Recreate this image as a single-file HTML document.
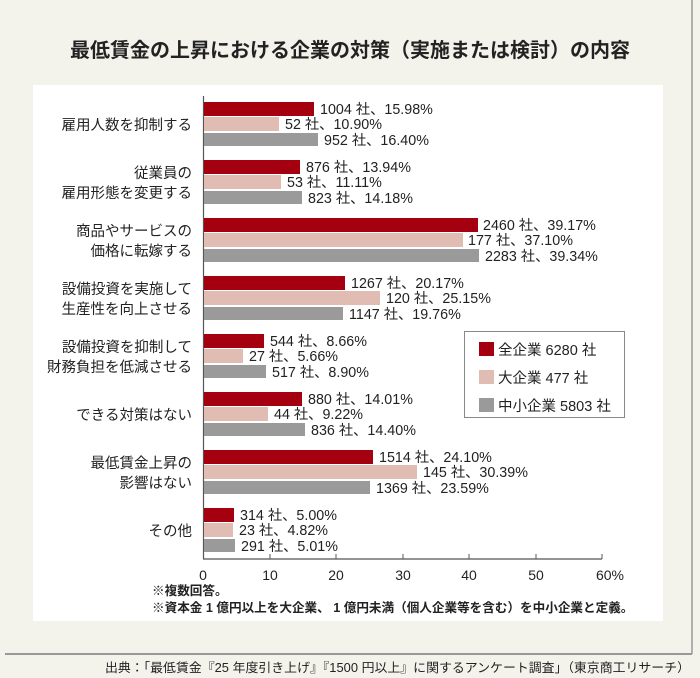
<!DOCTYPE html>
<html><head><meta charset="utf-8"><style>
body{margin:0;background:#f3f3ec}
svg{display:block}
text{font-family:"Liberation Sans","Noto Sans CJK JP",sans-serif;fill:#222}
</style></head><body>
<svg width="700" height="678" viewBox="0 0 700 678" xmlns="http://www.w3.org/2000/svg">
<rect x="0" y="0" width="700" height="678" fill="#f3f3ec"/>
<rect x="33" y="85" width="630" height="536" fill="#fff"/>
<line x1="692" y1="0" x2="692" y2="654" stroke="#999" stroke-width="1.5"/>
<line x1="5" y1="654" x2="692" y2="654" stroke="#999" stroke-width="2"/>
<text x="350" y="57" text-anchor="middle" font-size="20" font-weight="bold" textLength="560" lengthAdjust="spacingAndGlyphs">最低賃金の上昇における企業の対策（実施または検討）の内容</text>

<line x1="203.5" y1="96" x2="203.5" y2="559" stroke="#555" stroke-width="1.2"/>
<line x1="203" y1="559" x2="602" y2="559" stroke="#555" stroke-width="1.2"/>
<g stroke="#555" stroke-width="1">
<line x1="270" y1="554" x2="270" y2="559"/><line x1="336" y1="554" x2="336" y2="559"/>
<line x1="403" y1="554" x2="403" y2="559"/><line x1="469" y1="554" x2="469" y2="559"/>
<line x1="536" y1="554" x2="536" y2="559"/><line x1="602" y1="554" x2="602" y2="559"/>
</g>
<g font-size="14" text-anchor="middle">
<text x="203" y="580">0</text><text x="270" y="580">10</text><text x="336" y="580">20</text>
<text x="403" y="580">30</text><text x="469" y="580">40</text><text x="536" y="580">50</text><text x="610" y="580">60%</text>
</g>

<g>
<rect x="204" y="102" width="110" height="14" fill="#a5000f"/>
<rect x="204" y="117" width="75" height="14" fill="#e0bcb2"/>
<rect x="204" y="133" width="114" height="13" fill="#9a9a9a"/>
<rect x="204" y="160" width="96" height="14" fill="#a5000f"/>
<rect x="204" y="175" width="77" height="14" fill="#e0bcb2"/>
<rect x="204" y="191" width="98" height="13" fill="#9a9a9a"/>
<rect x="204" y="218" width="274" height="14" fill="#a5000f"/>
<rect x="204" y="233" width="259" height="14" fill="#e0bcb2"/>
<rect x="204" y="249" width="275" height="13" fill="#9a9a9a"/>
<rect x="204" y="276" width="141" height="14" fill="#a5000f"/>
<rect x="204" y="291" width="176" height="14" fill="#e0bcb2"/>
<rect x="204" y="307" width="139" height="13" fill="#9a9a9a"/>
<rect x="204" y="334" width="60" height="14" fill="#a5000f"/>
<rect x="204" y="349" width="39" height="14" fill="#e0bcb2"/>
<rect x="204" y="365" width="62" height="13" fill="#9a9a9a"/>
<rect x="204" y="392" width="98" height="14" fill="#a5000f"/>
<rect x="204" y="407" width="64" height="14" fill="#e0bcb2"/>
<rect x="204" y="423" width="101" height="13" fill="#9a9a9a"/>
<rect x="204" y="450" width="169" height="14" fill="#a5000f"/>
<rect x="204" y="465" width="213" height="14" fill="#e0bcb2"/>
<rect x="204" y="481" width="166" height="13" fill="#9a9a9a"/>
<rect x="204" y="508" width="30" height="14" fill="#a5000f"/>
<rect x="204" y="523" width="29" height="14" fill="#e0bcb2"/>
<rect x="204" y="539" width="31" height="13" fill="#9a9a9a"/>
</g>

<g font-size="14.3">
<text x="320" y="114">1004 社、15.98%</text>
<text x="285" y="129">52 社、10.90%</text>
<text x="324" y="145">952 社、16.40%</text>
<text x="306" y="172">876 社、13.94%</text>
<text x="287" y="187">53 社、11.11%</text>
<text x="308" y="203">823 社、14.18%</text>
<text x="483" y="230">2460 社、39.17%</text>
<text x="468" y="245">177 社、37.10%</text>
<text x="485" y="261">2283 社、39.34%</text>
<text x="351" y="288">1267 社、20.17%</text>
<text x="386" y="303">120 社、25.15%</text>
<text x="349" y="319">1147 社、19.76%</text>
<text x="270" y="346">544 社、8.66%</text>
<text x="249" y="361">27 社、5.66%</text>
<text x="272" y="377">517 社、8.90%</text>
<text x="308" y="404">880 社、14.01%</text>
<text x="274" y="419">44 社、9.22%</text>
<text x="311" y="435">836 社、14.40%</text>
<text x="379" y="462">1514 社、24.10%</text>
<text x="423" y="477">145 社、30.39%</text>
<text x="376" y="493">1369 社、23.59%</text>
<text x="240" y="520">314 社、5.00%</text>
<text x="239" y="535">23 社、4.82%</text>
<text x="241" y="551">291 社、5.01%</text>
</g>

<g font-size="14.5" text-anchor="end">
<text x="192" y="130">雇用人数を抑制する</text>
<text x="192" y="178">従業員の</text>
<text x="192" y="198">雇用形態を変更する</text>
<text x="192" y="236">商品やサービスの</text>
<text x="192" y="256">価格に転嫁する</text>
<text x="192" y="294">設備投資を実施して</text>
<text x="192" y="314">生産性を向上させる</text>
<text x="192" y="352">設備投資を抑制して</text>
<text x="192" y="372">財務負担を低減させる</text>
<text x="192" y="420">できる対策はない</text>
<text x="192" y="468">最低賃金上昇の</text>
<text x="192" y="488">影響はない</text>
<text x="192" y="536">その他</text>
</g>

<rect x="464.5" y="331.5" width="160" height="86" fill="#fff" stroke="#888" stroke-width="1"/>
<rect x="479" y="342" width="15" height="14" fill="#a5000f"/>
<rect x="479" y="370" width="15" height="14" fill="#e0bcb2"/>
<rect x="479" y="398" width="15" height="14" fill="#9a9a9a"/>
<g font-size="14.5">
<text x="498" y="355">全企業 6280 社</text>
<text x="498" y="383">大企業 477 社</text>
<text x="498" y="411">中小企業 5803 社</text>
</g>

<g font-size="12.6" font-weight="bold" fill="#333">
<text x="152" y="595">※複数回答。</text>
<text x="152" y="612">※資本金 1 億円以上を大企業、 1 億円未満（個人企業等を含む）を中小企業と定義。</text>
</g>
<text x="105" y="672" font-size="12.5" textLength="585" lengthAdjust="spacingAndGlyphs">出典：「最低賃金『25 年度引き上げ』『1500 円以上』に関するアンケート調査」（東京商工リサーチ）</text>
</svg>
</body></html>
